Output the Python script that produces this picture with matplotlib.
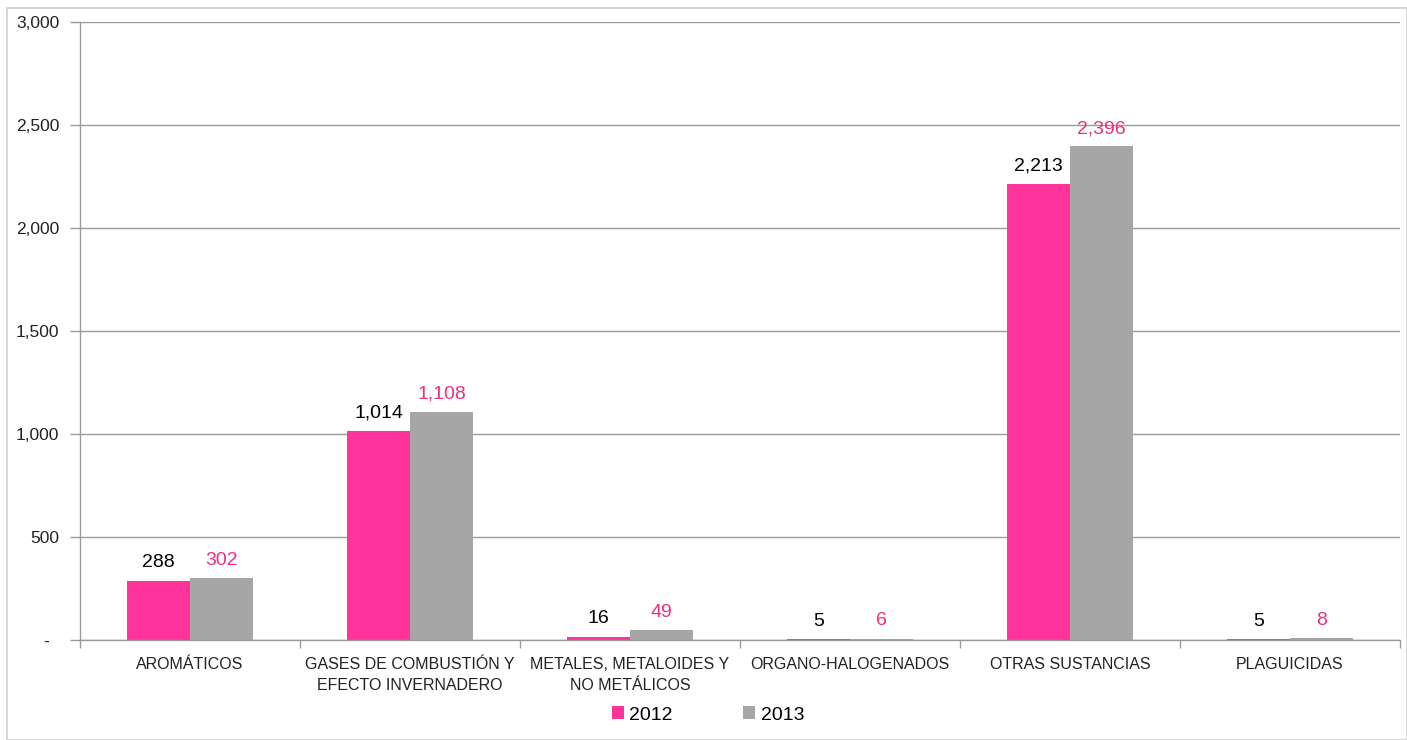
import matplotlib
matplotlib.use("Agg")
import matplotlib.pyplot as plt
import numpy as np
from matplotlib.patches import Rectangle
from matplotlib.ticker import FuncFormatter, FixedLocator

categories = ["AROMÁTICOS", "GASES DE COMBUSTIÓN Y\nEFECTO INVERNADERO",
              "METALES, METALOIDES Y\nNO METÁLICOS", "ORGANO-HALOGENADOS",
              "OTRAS SUSTANCIAS", "PLAGUICIDAS"]
values_2012 = [288, 1014, 16, 5, 2213, 5]
values_2013 = [302, 1108, 49, 6, 2396, 8]
series_names = ["2012", "2013"]
y_ticks = [0, 500, 1000, 1500, 2000, 2500, 3000]

pink = "#FF3399"
gray = "#A6A6A6"
pink_text = "#E6337F"

plt.rcParams["font.family"] = ["Liberation Sans", "DejaVu Sans"]

fig = plt.figure(figsize=(14.07, 7.40), dpi=100)
ax = fig.add_axes([80 / 1407, 1 - 640 / 740, 1320 / 1407, 618 / 740])

# outer frame of the chart area
fig.patches.append(Rectangle((7 / 1407, 0), 1 - 7 / 1407, 1 - 8 / 740,
                             transform=fig.transFigure, fill=False,
                             edgecolor="#D0D0D0", linewidth=1.2))

x = np.arange(len(categories))
w = 0.286
b1 = ax.bar(x - w / 2, values_2012, w, color=pink, label=series_names[0])
b2 = ax.bar(x + w / 2, values_2013, w, color=gray, label=series_names[1])

for xi, v in zip(x - w / 2, values_2012):
    ax.text(xi, v + 45, f"{v:,}", ha="center", va="bottom", fontsize=14, color="black")
for xi, v in zip(x + w / 2, values_2013):
    ax.text(xi, v + 45, f"{v:,}", ha="center", va="bottom", fontsize=14, color=pink_text)

ax.set_xlim(-0.5, len(categories) - 0.5)
ax.set_ylim(0, 3000)
ax.set_yticks(y_ticks)
ax.yaxis.set_major_formatter(FuncFormatter(lambda v, p: "-  " if v == 0 else f"{int(v):,}"))
ax.grid(axis="y", color="#9A9A9A", linewidth=1.0)
ax.set_axisbelow(True)

ax.set_xticks(x)
ax.set_xticklabels(categories, fontsize=11.5, linespacing=1.5)
ax.tick_params(axis="x", length=0, pad=12, colors="#222222")
ax.xaxis.set_minor_locator(FixedLocator(np.arange(-0.5, len(categories), 1.0)))
ax.tick_params(axis="x", which="minor", length=6, color="#9A9A9A", width=1)
ax.tick_params(axis="y", length=7, color="#9A9A9A", width=1, labelsize=12.5,
               labelcolor="#222222", pad=8)

for s in ["top", "right"]:
    ax.spines[s].set_visible(False)
for s in ["left", "bottom"]:
    ax.spines[s].set_color("#9A9A9A")
    ax.spines[s].set_linewidth(1.0)

fig.legend(handles=[b1, b2], labels=series_names, loc="center",
           bbox_to_anchor=(708 / 1407, 1 - 715 / 740), ncol=2, frameon=False,
           fontsize=14, handlelength=0.6, handleheight=0.6,
           handletextpad=0.3, columnspacing=3.6)

fig.savefig("out.png", dpi=100)
